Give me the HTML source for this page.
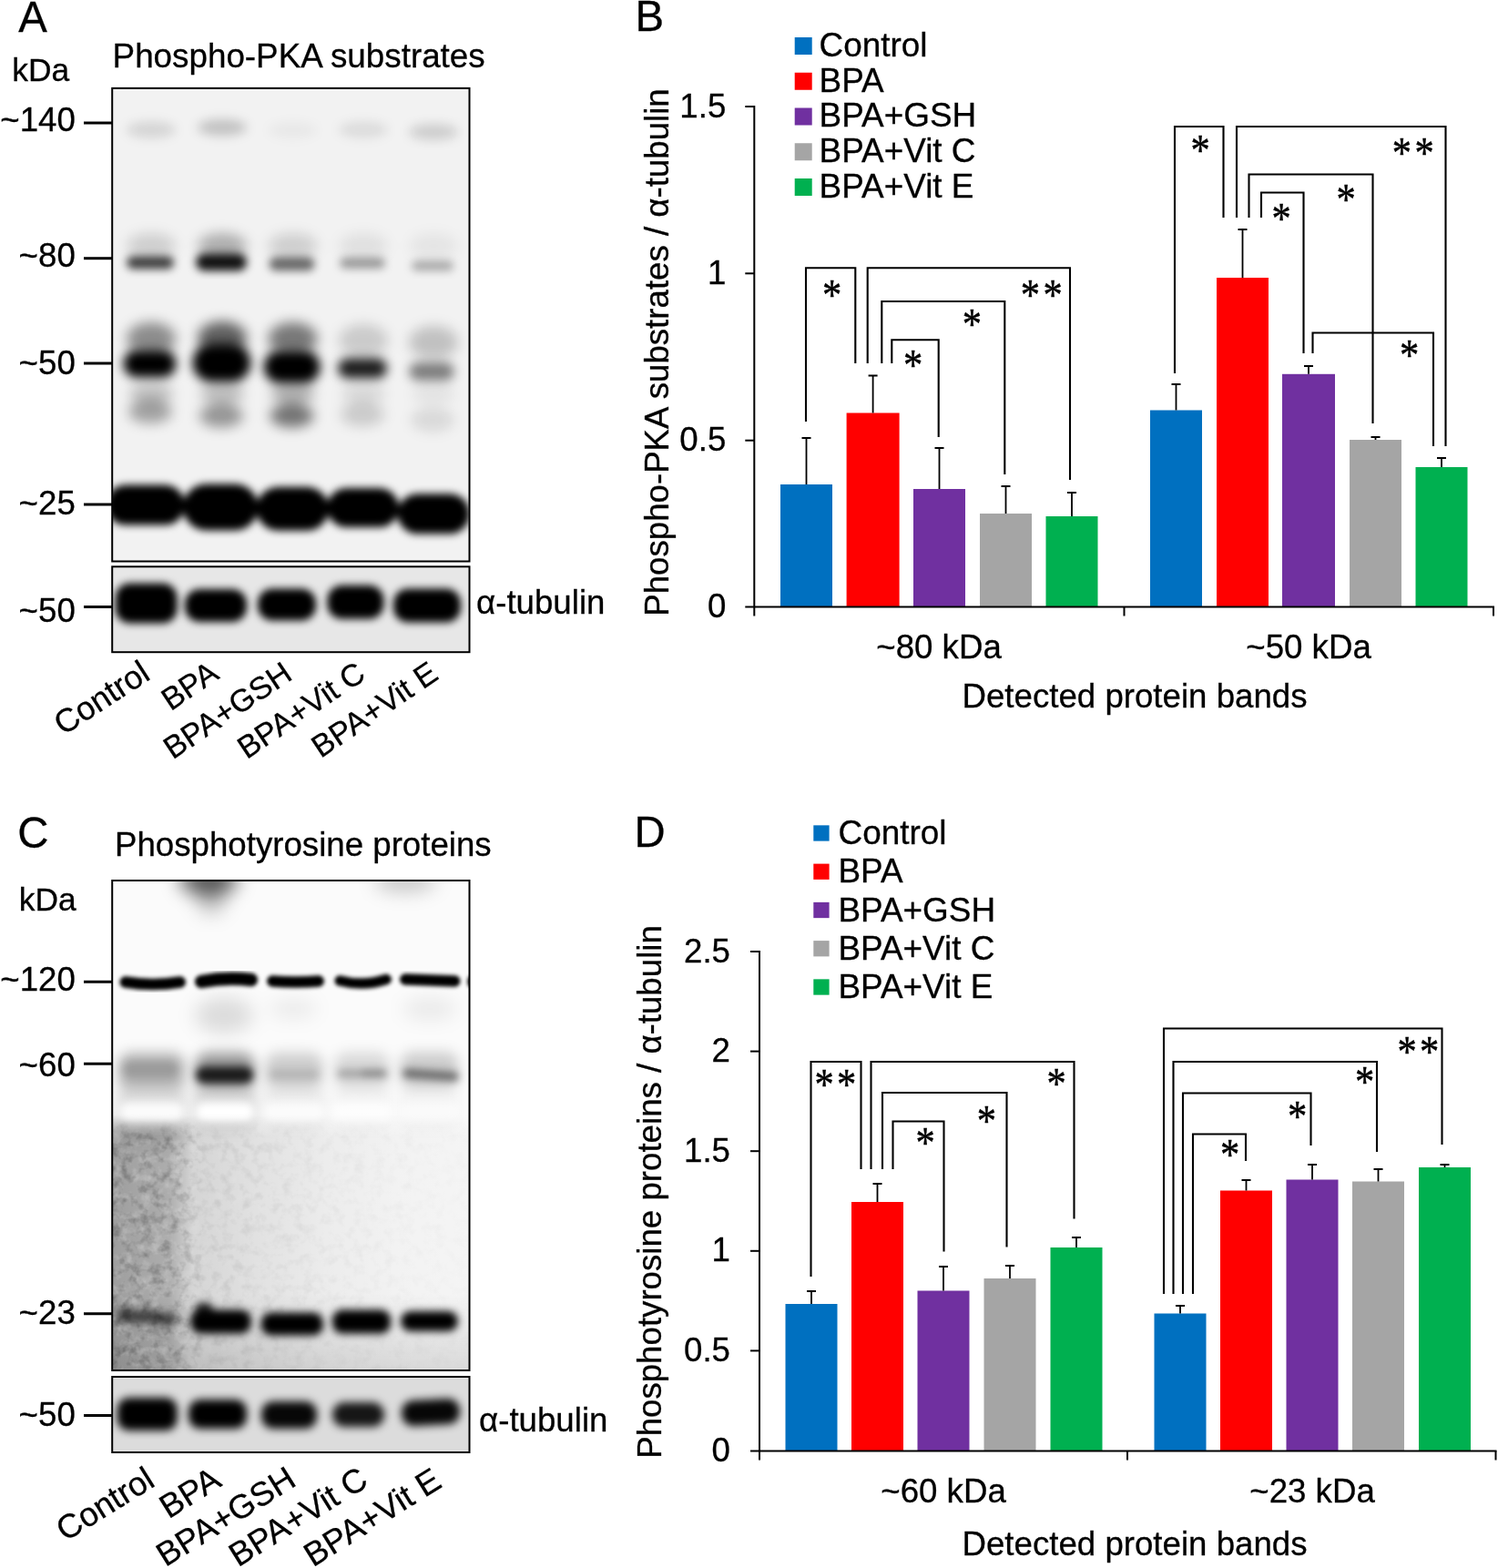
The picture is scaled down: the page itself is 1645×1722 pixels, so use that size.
<!DOCTYPE html>
<html lang="en"><head><meta charset="utf-8"><title>Figure</title>
<style>
html,body{margin:0;padding:0;background:#fff;}
svg{display:block;}
text{font-family:"Liberation Sans", sans-serif;fill:#000;stroke:#000;stroke-width:0.3px;}
text.st{font-family:"Liberation Serif","DejaVu Serif",serif;stroke:#000;stroke-width:0.5px;}
</style></head>
<body>
<svg width="1645" height="1722" viewBox="0 0 1645 1722">
<defs>
<filter id="b2" x="-50%" y="-50%" width="200%" height="200%" color-interpolation-filters="sRGB"><feGaussianBlur stdDeviation="2"/></filter>
<filter id="b4" x="-50%" y="-50%" width="200%" height="200%" color-interpolation-filters="sRGB"><feGaussianBlur stdDeviation="4"/></filter>
<filter id="b5" x="-50%" y="-50%" width="200%" height="200%" color-interpolation-filters="sRGB"><feGaussianBlur stdDeviation="5"/></filter>
<filter id="b6" x="-50%" y="-50%" width="200%" height="200%" color-interpolation-filters="sRGB"><feGaussianBlur stdDeviation="6"/></filter>
<filter id="b7" x="-50%" y="-50%" width="200%" height="200%" color-interpolation-filters="sRGB"><feGaussianBlur stdDeviation="7"/></filter>
<filter id="b10" x="-50%" y="-50%" width="200%" height="200%" color-interpolation-filters="sRGB"><feGaussianBlur stdDeviation="10"/></filter>
<linearGradient id="gCh" gradientUnits="userSpaceOnUse" x1="123" y1="0" x2="516" y2="0">
<stop offset="0" stop-color="#000" stop-opacity="0.36"/>
<stop offset="0.16" stop-color="#000" stop-opacity="0.30"/>
<stop offset="0.225" stop-color="#000" stop-opacity="0.14"/>
<stop offset="0.40" stop-color="#000" stop-opacity="0.09"/>
<stop offset="0.60" stop-color="#000" stop-opacity="0.045"/>
<stop offset="0.80" stop-color="#000" stop-opacity="0.02"/>
<stop offset="1" stop-color="#000" stop-opacity="0.01"/>
</linearGradient>
<linearGradient id="gCv" gradientUnits="userSpaceOnUse" x1="0" y1="1195" x2="0" y2="1248">
<stop offset="0" stop-color="#fbfbfb" stop-opacity="1"/>
<stop offset="0.55" stop-color="#fbfbfb" stop-opacity="0.97"/>
<stop offset="1" stop-color="#fbfbfb" stop-opacity="0"/>
</linearGradient>
<linearGradient id="gCb" gradientUnits="userSpaceOnUse" x1="0" y1="1420" x2="0" y2="1505">
<stop offset="0" stop-color="#000" stop-opacity="0"/>
<stop offset="1" stop-color="#000" stop-opacity="0.11"/>
</linearGradient>
<filter id="grain" x="0" y="0" width="100%" height="100%" color-interpolation-filters="sRGB">
<feTurbulence type="fractalNoise" baseFrequency="0.09" numOctaves="3" seed="7"/>
<feColorMatrix type="matrix" values="0 0 0 0 0  0 0 0 0 0  0 0 0 0 0  2.2 0 0 0 -1.0"/>
</filter>
<filter id="grainw" x="0" y="0" width="100%" height="100%" color-interpolation-filters="sRGB">
<feTurbulence type="fractalNoise" baseFrequency="0.09" numOctaves="3" seed="21"/>
<feColorMatrix type="matrix" values="0 0 0 0 1  0 0 0 0 1  0 0 0 0 1  2.2 0 0 0 -1.0"/>
</filter>
<linearGradient id="gMk" gradientUnits="userSpaceOnUse" x1="123" y1="0" x2="516" y2="0">
<stop offset="0" stop-color="#fff" stop-opacity="1"/>
<stop offset="0.19" stop-color="#fff" stop-opacity="0.85"/>
<stop offset="0.26" stop-color="#fff" stop-opacity="0.3"/>
<stop offset="0.6" stop-color="#fff" stop-opacity="0.15"/>
<stop offset="1" stop-color="#fff" stop-opacity="0.05"/>
</linearGradient>
<linearGradient id="gMv" gradientUnits="userSpaceOnUse" x1="0" y1="1228" x2="0" y2="1250">
<stop offset="0" stop-color="#000" stop-opacity="1"/>
<stop offset="1" stop-color="#000" stop-opacity="0"/>
</linearGradient>
<mask id="mC" maskUnits="userSpaceOnUse" x="123" y="1225" width="393" height="281"><rect x="123" y="1228" width="393" height="278" fill="url(#gMk)"/><rect x="123" y="1225" width="393" height="26" fill="url(#gMv)"/></mask>

</defs>
<rect x="0" y="0" width="1645" height="1722" fill="#fff"/>
<text transform="translate(20.3 35) scale(1 1.02)" font-size="47.3">A</text>
<text transform="translate(13.2 89.3)" font-size="35.4">kDa</text>
<text transform="translate(123.6 73.5)" font-size="36.8">Phospho-PKA substrates</text>
<text transform="translate(82.8 144.2)" font-size="36.67" text-anchor="end">~140</text>
<line x1="92" y1="135" x2="123" y2="135" stroke="#000" stroke-width="3"/>
<text transform="translate(82.8 293)" font-size="36.67" text-anchor="end">~80</text>
<line x1="92" y1="283.7" x2="123" y2="283.7" stroke="#000" stroke-width="3"/>
<text transform="translate(82.8 411)" font-size="36.67" text-anchor="end">~50</text>
<line x1="92" y1="399" x2="123" y2="399" stroke="#000" stroke-width="3"/>
<text transform="translate(82.8 565)" font-size="36.67" text-anchor="end">~25</text>
<line x1="92" y1="554" x2="123" y2="554" stroke="#000" stroke-width="3"/>
<text transform="translate(82.8 682.5)" font-size="36.67" text-anchor="end">~50</text>
<line x1="92" y1="666.5" x2="123" y2="666.5" stroke="#000" stroke-width="3"/>
<text transform="translate(523 673.5)" font-size="36.67">α-tubulin</text>
<text transform="translate(166.8 745) rotate(-33)" font-size="36" text-anchor="end">Control</text>
<text transform="translate(242.2 744.2) rotate(-34)" font-size="34.3" text-anchor="end">BPA</text>
<text transform="translate(322.8 744.8) rotate(-34)" font-size="34.3" text-anchor="end">BPA+GSH</text>
<text transform="translate(403.4 744.8) rotate(-34)" font-size="34.3" text-anchor="end">BPA+Vit C</text>
<text transform="translate(483.2 744.8) rotate(-34)" font-size="34.3" text-anchor="end">BPA+Vit E</text>
<clipPath id="cA1"><rect x="123.2" y="96.9" width="392.3" height="519.6"/></clipPath>
<g clip-path="url(#cA1)">
<rect x="123.2" y="96.9" width="392.3" height="519.6" fill="#f2f2f2"/>

<g filter="url(#b6)">
<ellipse cx="166" cy="142.5" rx="27" ry="9" fill="#000" fill-opacity="0.12"/>
<ellipse cx="244" cy="140" rx="27" ry="9" fill="#000" fill-opacity="0.2"/>
<ellipse cx="321.5" cy="143" rx="27" ry="9" fill="#000" fill-opacity="0.04"/>
<ellipse cx="399" cy="142.5" rx="27" ry="9" fill="#000" fill-opacity="0.09"/>
<ellipse cx="476" cy="145" rx="27" ry="9" fill="#000" fill-opacity="0.15"/>
</g>
<g filter="url(#b5)">
<rect x="139.0" y="281.5" width="52" height="14" rx="7.0" ry="7.0" fill="#000" fill-opacity="0.74"/>
<rect x="215.0" y="278.5" width="56" height="19" rx="9.5" ry="9.5" fill="#000" fill-opacity="0.92"/>
<rect x="295.5" y="282.5" width="50" height="15" rx="7.5" ry="7.5" fill="#000" fill-opacity="0.56"/>
<rect x="373.0" y="283.0" width="50" height="12" rx="6.0" ry="6.0" fill="#000" fill-opacity="0.36"/>
<rect x="452.0" y="286.5" width="46" height="11" rx="5.5" ry="5.5" fill="#000" fill-opacity="0.3"/>
</g>
<g filter="url(#b7)">
<ellipse cx="166" cy="270" rx="27" ry="14" fill="#000" fill-opacity="0.14"/>
<ellipse cx="244" cy="270" rx="27" ry="14" fill="#000" fill-opacity="0.28"/>
<ellipse cx="321.5" cy="270" rx="27" ry="14" fill="#000" fill-opacity="0.14"/>
<ellipse cx="399" cy="270" rx="27" ry="14" fill="#000" fill-opacity="0.07"/>
<ellipse cx="476" cy="270" rx="27" ry="14" fill="#000" fill-opacity="0.05"/>
<ellipse cx="166" cy="372" rx="27" ry="18" fill="#000" fill-opacity="0.42"/>
<ellipse cx="244" cy="371" rx="27" ry="18" fill="#000" fill-opacity="0.6"/>
<ellipse cx="321.5" cy="372" rx="27" ry="18" fill="#000" fill-opacity="0.5"/>
<ellipse cx="399" cy="374" rx="27" ry="18" fill="#000" fill-opacity="0.16"/>
<ellipse cx="476" cy="376" rx="27" ry="18" fill="#000" fill-opacity="0.2"/>
<ellipse cx="165" cy="452" rx="24" ry="13" fill="#000" fill-opacity="0.33"/>
<ellipse cx="243" cy="456.5" rx="24" ry="13" fill="#000" fill-opacity="0.38"/>
<ellipse cx="320.5" cy="456.5" rx="24" ry="13" fill="#000" fill-opacity="0.52"/>
<ellipse cx="398" cy="455" rx="24" ry="13" fill="#000" fill-opacity="0.16"/>
<ellipse cx="475" cy="461" rx="24" ry="13" fill="#000" fill-opacity="0.1"/>
<ellipse cx="166" cy="432" rx="24" ry="12" fill="#000" fill-opacity="0.2"/>
<ellipse cx="244" cy="432" rx="24" ry="12" fill="#000" fill-opacity="0.22"/>
<ellipse cx="321.5" cy="432" rx="24" ry="12" fill="#000" fill-opacity="0.28"/>
<ellipse cx="399" cy="432" rx="24" ry="12" fill="#000" fill-opacity="0.1"/>
<ellipse cx="476" cy="432" rx="24" ry="12" fill="#000" fill-opacity="0.06"/>
</g>
<g filter="url(#b6)">
<rect x="135.4" y="384.6" width="58" height="30" rx="15.0" ry="15.0" fill="#000" fill-opacity="1"/>
<rect x="211.4" y="377.5" width="64" height="42" rx="21.0" ry="21.0" fill="#000" fill-opacity="1"/>
<rect x="289.6" y="385.0" width="62" height="36" rx="18.0" ry="18.0" fill="#000" fill-opacity="1"/>
<rect x="371.0" y="393.5" width="54" height="22" rx="11.0" ry="11.0" fill="#000" fill-opacity="0.88"/>
<rect x="449.0" y="398.0" width="50" height="20" rx="10.0" ry="10.0" fill="#000" fill-opacity="0.48"/>
</g>
<g filter="url(#b4)">
<rect x="116.0" y="532.6" width="87" height="44" rx="22.0" ry="22.0" fill="#000" fill-opacity="1"/>
<rect x="201.0" y="531.5" width="82.5" height="51" rx="25.5" ry="25.5" fill="#000" fill-opacity="1"/>
<rect x="281.5" y="534.8" width="79.5" height="48" rx="24.0" ry="24.0" fill="#000" fill-opacity="1"/>
<rect x="359.0" y="536.1" width="79" height="43" rx="21.5" ry="21.5" fill="#000" fill-opacity="1"/>
<rect x="436.5" y="542.3" width="79.5" height="44" rx="22.0" ry="22.0" fill="#000" fill-opacity="1"/>
</g>
</g>
<rect x="123.2" y="96.9" width="392.3" height="519.6" fill="none" stroke="#000" stroke-width="2"/>
<clipPath id="cA2"><rect x="123.2" y="622.3" width="392.3" height="93.90000000000009"/></clipPath>
<g clip-path="url(#cA2)">
<rect x="123.2" y="622.3" width="392.3" height="93.90000000000009" fill="#e7e7e7"/>

<g filter="url(#b4)">
<rect x="126.6" y="640.5" width="68" height="44" rx="16" ry="16" fill="#000" fill-opacity="1"/>
<rect x="203.0" y="647.0" width="68" height="36" rx="16" ry="16" fill="#000" fill-opacity="1"/>
<rect x="283.0" y="646.5" width="64" height="35" rx="16" ry="16" fill="#000" fill-opacity="1"/>
<rect x="359.5" y="642.7" width="62" height="37" rx="16" ry="16" fill="#000" fill-opacity="1"/>
<rect x="432.0" y="646.5" width="74" height="37" rx="16" ry="16" fill="#000" fill-opacity="1"/>
</g>
</g>
<rect x="123.2" y="622.3" width="392.3" height="93.90000000000009" fill="none" stroke="#000" stroke-width="2"/>
<text transform="translate(697.5 34) scale(1 1.02)" font-size="47.3">B</text>
<rect x="872.7" y="41.0" width="19" height="19" fill="#0070C0"/>
<text transform="translate(899.6 61.9)" font-size="36.9">Control</text>
<rect x="872.7" y="79.75" width="19" height="19" fill="#FF0000"/>
<text transform="translate(899.6 100.65)" font-size="36.9">BPA</text>
<rect x="872.7" y="118.5" width="19" height="19" fill="#7030A0"/>
<text transform="translate(899.6 139.4)" font-size="36.9">BPA+GSH</text>
<rect x="872.7" y="157.25" width="19" height="19" fill="#A5A5A5"/>
<text transform="translate(899.6 178.15)" font-size="36.9">BPA+Vit C</text>
<rect x="872.7" y="196.0" width="19" height="19" fill="#00B050"/>
<text transform="translate(899.6 216.9)" font-size="36.9">BPA+Vit E</text>
<rect x="857" y="532" width="57" height="134.5" fill="#0070C0"/>
<path d="M885.5 532V481M880.5 481H890.5" fill="none" stroke="#000" stroke-width="1.8"/>
<rect x="929.6" y="453.5" width="58" height="213.0" fill="#FF0000"/>
<path d="M958.6 453.5V412.5M953.6 412.5H963.6" fill="none" stroke="#000" stroke-width="1.8"/>
<rect x="1003" y="537" width="57" height="129.5" fill="#7030A0"/>
<path d="M1031.5 537V492M1026.5 492H1036.5" fill="none" stroke="#000" stroke-width="1.8"/>
<rect x="1076" y="564" width="57" height="102.5" fill="#A5A5A5"/>
<path d="M1104.5 564V534M1099.5 534H1109.5" fill="none" stroke="#000" stroke-width="1.8"/>
<rect x="1148.5" y="567" width="57" height="99.5" fill="#00B050"/>
<path d="M1177.0 567V541M1172.0 541H1182.0" fill="none" stroke="#000" stroke-width="1.8"/>
<rect x="1263" y="450.5" width="57" height="216.0" fill="#0070C0"/>
<path d="M1291.5 450.5V422M1286.5 422H1296.5" fill="none" stroke="#000" stroke-width="1.8"/>
<rect x="1336" y="305" width="57" height="361.5" fill="#FF0000"/>
<path d="M1364.5 305V252M1359.5 252H1369.5" fill="none" stroke="#000" stroke-width="1.8"/>
<rect x="1408" y="410.8" width="58" height="255.7" fill="#7030A0"/>
<path d="M1437.0 410.8V402M1432.0 402H1442.0" fill="none" stroke="#000" stroke-width="1.8"/>
<rect x="1482" y="483" width="57" height="183.5" fill="#A5A5A5"/>
<path d="M1510.5 483V480M1505.5 480H1515.5" fill="none" stroke="#000" stroke-width="1.8"/>
<rect x="1554.5" y="513" width="57" height="153.5" fill="#00B050"/>
<path d="M1583.0 513V503M1578.0 503H1588.0" fill="none" stroke="#000" stroke-width="1.8"/>
<line x1="828.3" y1="116" x2="828.3" y2="676.5" stroke="#000" stroke-width="2"/>
<line x1="818.3" y1="666.5" x2="1641" y2="666.5" stroke="#000" stroke-width="2"/>
<line x1="1234.5" y1="666.5" x2="1234.5" y2="676.5" stroke="#000" stroke-width="2"/>
<line x1="1640" y1="666.5" x2="1640" y2="676.5" stroke="#000" stroke-width="2"/>
<line x1="818.3" y1="117" x2="828.3" y2="117" stroke="#000" stroke-width="2"/>
<text transform="translate(797.3 128.5)" font-size="36.67" text-anchor="end">1.5</text>
<line x1="818.3" y1="300.3" x2="828.3" y2="300.3" stroke="#000" stroke-width="2"/>
<text transform="translate(797.3 311.8) scale(1 1.02)" font-size="36.67" text-anchor="end">1</text>
<line x1="818.3" y1="483.7" x2="828.3" y2="483.7" stroke="#000" stroke-width="2"/>
<text transform="translate(797.3 495.2)" font-size="36.67" text-anchor="end">0.5</text>
<text transform="translate(797.3 678.0) scale(1 1.02)" font-size="36.67" text-anchor="end">0</text>
<text transform="translate(734 387) rotate(-90)" font-size="36.67" text-anchor="middle">Phospho-PKA substrates / α-tubulin</text>
<text transform="translate(1031 723)" font-size="36.67" text-anchor="middle">~80 kDa</text>
<text transform="translate(1437 723)" font-size="36.67" text-anchor="middle">~50 kDa</text>
<text transform="translate(1246 776.7)" font-size="36.67" text-anchor="middle">Detected protein bands</text>
<path d="M885 463V294.3H939.3V399" fill="none" stroke="#000" stroke-width="2.1" stroke-linejoin="miter"/>
<path d="M952.7 399V294.3H1175V527" fill="none" stroke="#000" stroke-width="2.1" stroke-linejoin="miter"/>
<path d="M968.3 399V331H1103.3V521" fill="none" stroke="#000" stroke-width="2.1" stroke-linejoin="miter"/>
<path d="M979.3 399V373.3H1030.7V480" fill="none" stroke="#000" stroke-width="2.1" stroke-linejoin="miter"/>
<path d="M1290 410V139H1343.5V239" fill="none" stroke="#000" stroke-width="2.1" stroke-linejoin="miter"/>
<path d="M1358 239V139H1587.5V490" fill="none" stroke="#000" stroke-width="2.1" stroke-linejoin="miter"/>
<path d="M1371.5 239V191.5H1507.5V465" fill="none" stroke="#000" stroke-width="2.1" stroke-linejoin="miter"/>
<path d="M1385 239V211.5H1431.5V388" fill="none" stroke="#000" stroke-width="2.1" stroke-linejoin="miter"/>
<path d="M1441.5 388V365.5H1574V490" fill="none" stroke="#000" stroke-width="2.1" stroke-linejoin="miter"/>
<text transform="translate(902.9 339.6) scale(0.885 1)" font-size="48" letter-spacing="3.9" class="st">*</text>
<text transform="translate(1120.7 339.7) scale(0.885 1)" font-size="48" letter-spacing="3.9" class="st">**</text>
<text transform="translate(1056.7 372.0) scale(0.885 1)" font-size="48" letter-spacing="3.9" class="st">*</text>
<text transform="translate(992.1 417.4) scale(0.885 1)" font-size="48" letter-spacing="3.9" class="st">*</text>
<text transform="translate(1307.4 181.0) scale(0.885 1)" font-size="48" letter-spacing="3.9" class="st">*</text>
<text transform="translate(1528.8 183.6) scale(0.885 1)" font-size="48" letter-spacing="3.9" class="st">**</text>
<text transform="translate(1467.4 234.9) scale(0.885 1)" font-size="48" letter-spacing="3.9" class="st">*</text>
<text transform="translate(1396.4 255.6) scale(0.885 1)" font-size="48" letter-spacing="3.9" class="st">*</text>
<text transform="translate(1536.9 406.1) scale(0.885 1)" font-size="48" letter-spacing="3.9" class="st">*</text>
<text transform="translate(696.5 929.7) scale(1 1.02)" font-size="47.3">D</text>
<rect x="893.3" y="906.35" width="17.3" height="17.3" fill="#0070C0"/>
<text transform="translate(920.5 927.2)" font-size="36.9">Control</text>
<rect x="893.3" y="948.6" width="17.3" height="17.3" fill="#FF0000"/>
<text transform="translate(920.5 969.45)" font-size="36.9">BPA</text>
<rect x="893.3" y="990.85" width="17.3" height="17.3" fill="#7030A0"/>
<text transform="translate(920.5 1011.7)" font-size="36.9">BPA+GSH</text>
<rect x="893.3" y="1033.1" width="17.3" height="17.3" fill="#A5A5A5"/>
<text transform="translate(920.5 1053.95)" font-size="36.9">BPA+Vit C</text>
<rect x="893.3" y="1075.35" width="17.3" height="17.3" fill="#00B050"/>
<text transform="translate(920.5 1096.2)" font-size="36.9">BPA+Vit E</text>
<rect x="862.5" y="1432" width="57" height="161.5" fill="#0070C0"/>
<path d="M891.0 1432V1418M886.0 1418H896.0" fill="none" stroke="#000" stroke-width="1.8"/>
<rect x="935" y="1320" width="57" height="273.5" fill="#FF0000"/>
<path d="M963.5 1320V1300M958.5 1300H968.5" fill="none" stroke="#000" stroke-width="1.8"/>
<rect x="1007.5" y="1417.5" width="57" height="176.0" fill="#7030A0"/>
<path d="M1036.0 1417.5V1391M1031.0 1391H1041.0" fill="none" stroke="#000" stroke-width="1.8"/>
<rect x="1080.5" y="1404" width="57" height="189.5" fill="#A5A5A5"/>
<path d="M1109.0 1404V1390M1104.0 1390H1114.0" fill="none" stroke="#000" stroke-width="1.8"/>
<rect x="1153.5" y="1370" width="57" height="223.5" fill="#00B050"/>
<path d="M1182.0 1370V1359M1177.0 1359H1187.0" fill="none" stroke="#000" stroke-width="1.8"/>
<rect x="1267.5" y="1442.5" width="57" height="151.0" fill="#0070C0"/>
<path d="M1296.0 1442.5V1434M1291.0 1434H1301.0" fill="none" stroke="#000" stroke-width="1.8"/>
<rect x="1340" y="1307.5" width="57" height="286.0" fill="#FF0000"/>
<path d="M1368.5 1307.5V1296M1363.5 1296H1373.5" fill="none" stroke="#000" stroke-width="1.8"/>
<rect x="1412.5" y="1295.5" width="57" height="298.0" fill="#7030A0"/>
<path d="M1441.0 1295.5V1279M1436.0 1279H1446.0" fill="none" stroke="#000" stroke-width="1.8"/>
<rect x="1485" y="1297.5" width="57" height="296.0" fill="#A5A5A5"/>
<path d="M1513.5 1297.5V1284M1508.5 1284H1518.5" fill="none" stroke="#000" stroke-width="1.8"/>
<rect x="1558" y="1282" width="57" height="311.5" fill="#00B050"/>
<path d="M1586.5 1282V1279M1581.5 1279H1591.5" fill="none" stroke="#000" stroke-width="1.8"/>
<line x1="834" y1="1044" x2="834" y2="1603.5" stroke="#000" stroke-width="2"/>
<line x1="824" y1="1593.5" x2="1643.5" y2="1593.5" stroke="#000" stroke-width="2"/>
<line x1="1238" y1="1593.5" x2="1238" y2="1603.5" stroke="#000" stroke-width="2"/>
<line x1="1642.5" y1="1593.5" x2="1642.5" y2="1603.5" stroke="#000" stroke-width="2"/>
<line x1="824" y1="1045" x2="834" y2="1045" stroke="#000" stroke-width="2"/>
<text transform="translate(802 1056.5)" font-size="36.67" text-anchor="end">2.5</text>
<line x1="824" y1="1154.6" x2="834" y2="1154.6" stroke="#000" stroke-width="2"/>
<text transform="translate(802 1166.1) scale(1 1.02)" font-size="36.67" text-anchor="end">2</text>
<line x1="824" y1="1264.2" x2="834" y2="1264.2" stroke="#000" stroke-width="2"/>
<text transform="translate(802 1275.7)" font-size="36.67" text-anchor="end">1.5</text>
<line x1="824" y1="1373.8" x2="834" y2="1373.8" stroke="#000" stroke-width="2"/>
<text transform="translate(802 1385.3) scale(1 1.02)" font-size="36.67" text-anchor="end">1</text>
<line x1="824" y1="1483.4" x2="834" y2="1483.4" stroke="#000" stroke-width="2"/>
<text transform="translate(802 1494.9)" font-size="36.67" text-anchor="end">0.5</text>
<text transform="translate(802 1605.0) scale(1 1.02)" font-size="36.67" text-anchor="end">0</text>
<text transform="translate(726.3 1309) rotate(-90)" font-size="36.67" text-anchor="middle">Phosphotyrosine proteins / α-tubulin</text>
<text transform="translate(1036 1650)" font-size="36.67" text-anchor="middle">~60 kDa</text>
<text transform="translate(1441 1650)" font-size="36.67" text-anchor="middle">~23 kDa</text>
<text transform="translate(1246 1708)" font-size="36.67" text-anchor="middle">Detected protein bands</text>
<path d="M890.5 1402V1166H945.5V1284" fill="none" stroke="#000" stroke-width="2.1" stroke-linejoin="miter"/>
<path d="M956.5 1284V1166H1179.5V1338.5" fill="none" stroke="#000" stroke-width="2.1" stroke-linejoin="miter"/>
<path d="M969 1284V1200H1105.5V1369.5" fill="none" stroke="#000" stroke-width="2.1" stroke-linejoin="miter"/>
<path d="M980.5 1284V1231.5H1036.5V1374.5" fill="none" stroke="#000" stroke-width="2.1" stroke-linejoin="miter"/>
<path d="M1278 1421V1129.5H1583.5V1257" fill="none" stroke="#000" stroke-width="2.1" stroke-linejoin="miter"/>
<path d="M1288.5 1421V1166H1512V1265" fill="none" stroke="#000" stroke-width="2.1" stroke-linejoin="miter"/>
<path d="M1299 1421V1200.5H1439.5V1258" fill="none" stroke="#000" stroke-width="2.1" stroke-linejoin="miter"/>
<path d="M1310 1421V1245.5H1368V1275" fill="none" stroke="#000" stroke-width="2.1" stroke-linejoin="miter"/>
<text transform="translate(894.4 1207.1) scale(0.885 1)" font-size="48" letter-spacing="3.9" class="st">**</text>
<text transform="translate(1149.4 1205.6) scale(0.885 1)" font-size="48" letter-spacing="3.9" class="st">*</text>
<text transform="translate(1072.7 1246.6) scale(0.885 1)" font-size="48" letter-spacing="3.9" class="st">*</text>
<text transform="translate(1005.4 1271.3) scale(0.885 1)" font-size="48" letter-spacing="3.9" class="st">*</text>
<text transform="translate(1534.4 1171.1) scale(0.885 1)" font-size="48" letter-spacing="3.9" class="st">**</text>
<text transform="translate(1487.9 1204.3) scale(0.885 1)" font-size="48" letter-spacing="3.9" class="st">*</text>
<text transform="translate(1413.9 1242.3) scale(0.885 1)" font-size="48" letter-spacing="3.9" class="st">*</text>
<text transform="translate(1339.9 1284.3) scale(0.885 1)" font-size="48" letter-spacing="3.9" class="st">*</text>
<text transform="translate(19.3 931) scale(1 1.02)" font-size="47.3">C</text>
<text transform="translate(126 939.5)" font-size="36.67">Phosphotyrosine proteins</text>
<text transform="translate(20.7 1000)" font-size="35.4">kDa</text>
<text transform="translate(82.8 1087.8)" font-size="36.67" text-anchor="end">~120</text>
<line x1="92" y1="1078.25" x2="123" y2="1078.25" stroke="#000" stroke-width="3"/>
<text transform="translate(82.8 1181.6)" font-size="36.67" text-anchor="end">~60</text>
<line x1="92" y1="1168.25" x2="123" y2="1168.25" stroke="#000" stroke-width="3"/>
<text transform="translate(82.8 1453.8)" font-size="36.67" text-anchor="end">~23</text>
<line x1="92" y1="1442.75" x2="123" y2="1442.75" stroke="#000" stroke-width="3"/>
<text transform="translate(82.8 1566.2)" font-size="36.67" text-anchor="end">~50</text>
<line x1="92" y1="1554.5" x2="123" y2="1554.5" stroke="#000" stroke-width="3"/>
<text transform="translate(526 1572)" font-size="36.67">α-tubulin</text>
<text transform="translate(172 1631) rotate(-32)" font-size="36.67" text-anchor="end">Control</text>
<text transform="translate(245.1 1631) rotate(-32)" font-size="36.67" text-anchor="end">BPA</text>
<text transform="translate(327.2 1630.5) rotate(-32)" font-size="36.67" text-anchor="end">BPA+GSH</text>
<text transform="translate(406.3 1631) rotate(-32)" font-size="36.67" text-anchor="end">BPA+Vit C</text>
<text transform="translate(487 1632) rotate(-32)" font-size="36.67" text-anchor="end">BPA+Vit E</text>
<clipPath id="cC1"><rect x="123.2" y="967" width="392.3" height="538"/></clipPath>
<g clip-path="url(#cC1)">
<rect x="123.2" y="967" width="392.3" height="538" fill="#f7f7f7"/>
<rect x="123" y="1190" width="393" height="316" fill="url(#gCh)"/><rect x="123" y="1380" width="393" height="126" fill="url(#gCb)"/><rect x="123" y="966" width="393" height="296" fill="url(#gCv)"/><g mask="url(#mC)"><rect x="123" y="1225" width="393" height="281" filter="url(#grain)" opacity="0.3"/><rect x="123" y="1225" width="393" height="281" filter="url(#grainw)" opacity="0.3"/></g>
<g filter="url(#b10)">
<ellipse cx="229" cy="966" rx="32" ry="17" fill="#000" fill-opacity="0.62"/>
<ellipse cx="232" cy="986" rx="17" ry="19" fill="#000" fill-opacity="0.2"/>
<ellipse cx="445" cy="968" rx="34" ry="12" fill="#000" fill-opacity="0.2"/>
<ellipse cx="246" cy="1115" rx="32" ry="20" fill="#000" fill-opacity="0.12"/>
<ellipse cx="322" cy="1108" rx="26" ry="10" fill="#000" fill-opacity="0.07"/>
<ellipse cx="472" cy="1108" rx="30" ry="12" fill="#000" fill-opacity="0.07"/>
<ellipse cx="165" cy="1245" rx="45" ry="10" fill="#000" fill-opacity="0.1"/>
</g>
<g filter="url(#b7)">
<rect x="130.5" y="1155.0" width="72" height="40" rx="14" ry="14" fill="#000" fill-opacity="0.2"/>
<rect x="215.0" y="1155.0" width="64" height="40" rx="14" ry="14" fill="#000" fill-opacity="0.3"/>
<rect x="292.0" y="1155.0" width="62" height="40" rx="14" ry="14" fill="#000" fill-opacity="0.13"/>
<rect x="367.5" y="1155.0" width="60" height="40" rx="14" ry="14" fill="#000" fill-opacity="0.11"/>
<rect x="439.5" y="1155.0" width="64" height="40" rx="14" ry="14" fill="#000" fill-opacity="0.16"/>
<rect x="129.5" y="1160.0" width="74" height="80" rx="10" ry="10" fill="#000" fill-opacity="0.12"/>
<rect x="213.0" y="1160.0" width="68" height="80" rx="10" ry="10" fill="#000" fill-opacity="0.14"/>
<rect x="290.0" y="1160.0" width="66" height="80" rx="10" ry="10" fill="#000" fill-opacity="0.06"/>
<rect x="366.5" y="1160.0" width="62" height="80" rx="10" ry="10" fill="#000" fill-opacity="0.03"/>
<rect x="439.5" y="1160.0" width="64" height="80" rx="10" ry="10" fill="#000" fill-opacity="0.03"/>
</g>
<g filter="url(#b5)">
<rect x="130.5" y="1210.0" width="72" height="22" rx="11.0" ry="11.0" fill="#fff" fill-opacity="0.9"/>
<rect x="214.0" y="1210.0" width="66" height="22" rx="11.0" ry="11.0" fill="#fff" fill-opacity="1"/>
<rect x="289.0" y="1210.0" width="68" height="22" rx="11.0" ry="11.0" fill="#fff" fill-opacity="0.8"/>
<rect x="363.5" y="1210.0" width="68" height="22" rx="11.0" ry="11.0" fill="#fff" fill-opacity="0.8"/>
<rect x="437.5" y="1210.0" width="68" height="22" rx="11.0" ry="11.0" fill="#fff" fill-opacity="0.6"/>
</g>
<g filter="url(#b4)">
<rect x="134.0" y="1165.0" width="62" height="18" rx="9.0" ry="9.0" fill="#000" fill-opacity="0.12"/>
<rect x="215.0" y="1171.5" width="63" height="18" rx="9.0" ry="9.0" fill="#000" fill-opacity="0.82"/>
<rect x="295.0" y="1175.0" width="56" height="10" rx="5.0" ry="5.0" fill="#000" fill-opacity="0.12"/>
<rect x="370.0" y="1174.5" width="56" height="9" rx="4.5" ry="4.5" fill="#000" fill-opacity="0.24"/>
<rect x="442.0" y="1175.5" width="62" height="10" rx="5.0" ry="5.0" fill="#000" fill-opacity="0.48" transform="rotate(4 473 1180.5)"/>
<rect x="397.0" y="1174.5" width="26" height="8" rx="4.0" ry="4.0" fill="#000" fill-opacity="0.18"/>
</g>
<g filter="url(#b2)">
<path d="M137.75 1078.5Q167.75 1083.5 197.75 1078.5" fill="none" stroke="#000" stroke-width="12.5" stroke-linecap="round" opacity="1"/>
<path d="M221.25 1078Q248.5 1072.6 275.75 1076" fill="none" stroke="#000" stroke-width="14.5" stroke-linecap="round" opacity="1"/>
<path d="M299.25 1077.5Q324.5 1079.7 349.75 1077.5" fill="none" stroke="#000" stroke-width="12.5" stroke-linecap="round" opacity="1"/>
<path d="M373.25 1077Q398.75 1083.8 424.25 1075.5" fill="none" stroke="#000" stroke-width="11.5" stroke-linecap="round" opacity="1"/>
<path d="M445.25 1075.5Q472.25 1076.5 499.25 1077.5" fill="none" stroke="#000" stroke-width="12.5" stroke-linecap="round" opacity="1"/>
<rect x="513.5" y="1072.0" width="7" height="12" rx="3.5" ry="6.0" fill="#000" fill-opacity="1"/>
</g>
<g filter="url(#b4)">
<rect x="128.0" y="1439.3" width="66" height="14" rx="7.0" ry="7.0" fill="#000" fill-opacity="0.6" transform="rotate(5 161 1446.3)"/>
<rect x="209.5" y="1438.5" width="66" height="26" rx="11" ry="11" fill="#000" fill-opacity="1"/>
<rect x="286.8" y="1441.5" width="68" height="25" rx="11" ry="11" fill="#000" fill-opacity="1"/>
<rect x="365.0" y="1438.5" width="64" height="26" rx="11" ry="11" fill="#000" fill-opacity="1"/>
<rect x="440.0" y="1440.0" width="63" height="22" rx="11" ry="11" fill="#000" fill-opacity="1"/>
<ellipse cx="224" cy="1438" rx="10" ry="8" fill="#000" fill-opacity="0.8"/>
</g>
</g>
<rect x="123.2" y="967" width="392.3" height="538" fill="none" stroke="#000" stroke-width="2"/>
<clipPath id="cC2"><rect x="123.2" y="1512" width="392.3" height="83"/></clipPath>
<g clip-path="url(#cC2)">
<rect x="123.2" y="1512" width="392.3" height="83" fill="#dcdcdc"/>

<g filter="url(#b5)">
<rect x="128.7" y="1535.0" width="66" height="36" rx="13" ry="13" fill="#000" fill-opacity="1"/>
<rect x="207.0" y="1537.0" width="64" height="32" rx="13" ry="13" fill="#000" fill-opacity="1"/>
<rect x="287.0" y="1539.0" width="61" height="30" rx="13" ry="13" fill="#000" fill-opacity="0.97"/>
<rect x="365.0" y="1540.1" width="57" height="27" rx="13" ry="13" fill="#000" fill-opacity="0.9"/>
<rect x="441.0" y="1537.0" width="64" height="28" rx="13" ry="13" fill="#000" fill-opacity="0.97" transform="rotate(-3 473 1551)"/>
</g>
</g>
<rect x="123.2" y="1512" width="392.3" height="83" fill="none" stroke="#000" stroke-width="2"/>
</svg>
</body></html>
